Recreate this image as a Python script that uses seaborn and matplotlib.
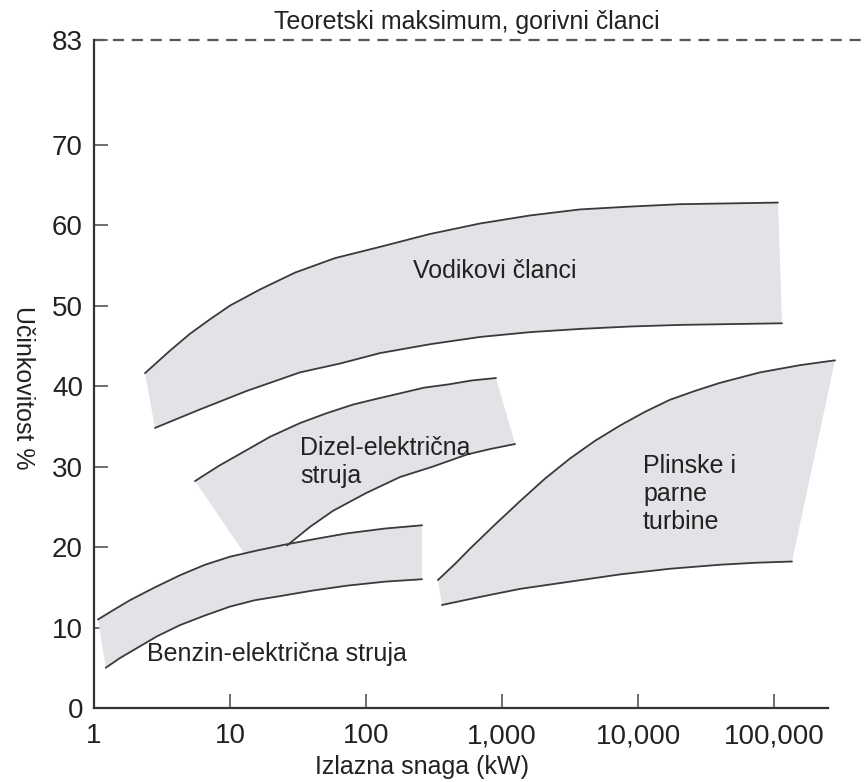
import numpy as np
import seaborn as sns
import matplotlib.pyplot as plt

sns.set_theme(style="ticks")
plt.rcParams['font.family'] = ['Liberation Sans', 'DejaVu Sans']

# power output (kW) and efficiency (%)
# Vodikovi clanci (hydrogen fuel cells)
h_up_x = [2.37, 3.62, 5.08, 7.13, 10, 16.6, 30.1, 59.2, 127, 296, 689,
          1607, 3748, 8730, 20370, 47470, 107000]
h_up_y = [41.6, 44.4, 46.5, 48.3, 50.0, 52.0, 54.1, 55.9, 57.3, 58.9, 60.2,
          61.2, 61.95, 62.3, 62.6, 62.7, 62.8]
h_lo_x = [2.81, 6.02, 13.3, 32.7, 64.4, 127, 296, 689, 1607, 3748, 8730,
          20370, 47470, 114500]
h_lo_y = [34.8, 37.1, 39.4, 41.7, 42.8, 44.1, 45.2, 46.1, 46.7, 47.1, 47.4,
          47.6, 47.7, 47.8]

# Dizel-elektricna struja
d_up_x = [5.53, 8.3, 12.5, 19.7, 32.7, 50.8, 80.2, 118.5, 178, 267, 401,
          601, 903]
d_up_y = [28.2, 30.1, 31.8, 33.7, 35.4, 36.6, 37.7, 38.4, 39.1, 39.8, 40.2,
          40.7, 41.0]
d_lo_x = [26.3, 38.7, 57.2, 100, 178, 311, 553, 830, 1247]
d_lo_y = [20.2, 22.5, 24.5, 26.7, 28.7, 30.0, 31.5, 32.2, 32.8]
d_corner_x = [13]
d_corner_y = [19.0]

# Benzin-elektricna struja
b_up_x = [1.07, 1.43, 1.84, 2.81, 4.29, 6.55, 10, 16.1, 25.4, 42.2, 72.5,
          138, 258]
b_up_y = [11.0, 12.3, 13.4, 15.0, 16.5, 17.8, 18.8, 19.6, 20.3, 21.0, 21.7,
          22.3, 22.7]
b_lo_x = [1.22, 1.55, 2.0, 2.9, 4.29, 6.55, 10, 15.3, 23.3, 40.8, 72.5,
          138, 258]
b_lo_y = [5.0, 6.2, 7.3, 8.9, 10.3, 11.5, 12.6, 13.4, 13.9, 14.6, 15.2,
          15.7, 16.0]

# Plinske i parne turbine
p_up_x = [338, 451, 582, 889, 1357, 2070, 3162, 4830, 7380, 11250, 17180,
          26240, 40060, 78900, 155400, 281000]
p_up_y = [15.9, 17.9, 19.8, 22.8, 25.7, 28.5, 31.0, 33.2, 35.1, 36.8, 38.3,
          39.4, 40.4, 41.7, 42.6, 43.2]
p_lo_x = [362, 689, 1357, 3162, 7380, 17180, 40060, 73800, 135600]
p_lo_y = [12.8, 13.8, 14.8, 15.7, 16.6, 17.3, 17.8, 18.05, 18.2]

max_eff = 83
xticks = [1, 10, 100, 1000, 10000, 100000]
xticklabels = ["1", "10", "100", "1,000", "10,000", "100,000"]
yticks = [0, 10, 20, 30, 40, 50, 60, 70, 83]

fill_col = "#e3e3e7"
line_col = "#3a3a3a"
text_col = "#222222"

fig = plt.figure(figsize=(8.67, 7.82), dpi=100)
ax = fig.add_axes([94/867, 74/782, 734/867, 668/782])
ax.set_xscale("log")


def band(ux, uy, lx, ly, cx=(), cy=()):
    ux, uy, lx, ly = map(np.asarray, (ux, uy, lx, ly))
    px = np.concatenate([ux, lx[::-1], cx])
    py = np.concatenate([uy, ly[::-1], cy])
    ax.fill(px, py, color=fill_col, lw=0, clip_on=False, zorder=1)
    sns.lineplot(x=ux, y=uy, ax=ax, color=line_col, lw=1.3, clip_on=False, zorder=2)
    sns.lineplot(x=lx, y=ly, ax=ax, color=line_col, lw=1.3, clip_on=False, zorder=2)


band(h_up_x, h_up_y, h_lo_x, h_lo_y)
band(b_up_x, b_up_y, b_lo_x, b_lo_y)
band(d_up_x, d_up_y, d_lo_x, d_lo_y, d_corner_x, d_corner_y)
band(p_up_x, p_up_y, p_lo_x, p_lo_y)

ax.axhline(max_eff, xmin=0, xmax=1.06, color="#555555", lw=1.6,
           ls=(0, (5, 3.5)), clip_on=False)

ax.set_xlim(1, 10**5.397)
ax.set_ylim(0, max_eff)
ax.set_xticks(xticks)
ax.set_xticklabels(xticklabels)
ax.xaxis.set_minor_locator(plt.NullLocator())
ax.set_yticks(yticks)

sns.despine(ax=ax, top=True, right=True)
for s in ["left", "bottom"]:
    ax.spines[s].set_color("#333333")
    ax.spines[s].set_linewidth(1.6)

ax.tick_params(axis="both", direction="in", length=10, width=1.2,
               color="#555555", labelsize=20, labelcolor=text_col)
ax.tick_params(axis="x", pad=11)
ax.tick_params(axis="y", pad=8)

ax.set_xlabel("Izlazna snaga (kW)", fontsize=18, color=text_col, va="center")
ax.xaxis.set_label_coords(0.447, -0.088)
ax.set_ylabel("Učinkovitost %", fontsize=18, color=text_col, rotation=270,
              va="center", ha="center")
ax.yaxis.set_label_coords(-0.097, 0.48)

ax.text(222, 54.3, "Vodikovi članci", fontsize=18, color=text_col, va="center")
ax.text(32.6, 30.6, "Dizel-električna\nstruja", fontsize=18, color=text_col,
        va="center", zorder=3)
ax.text(10900, 26.6, "Plinske i\nparne\nturbine", fontsize=18, color=text_col,
        va="center")
ax.text(2.45, 6.7, "Benzin-električna struja", fontsize=18, color=text_col,
        va="center")

fig.text(467/867, 1 - 22/782, "Teoretski maksimum, gorivni članci", fontsize=18,
         color=text_col, ha="center", va="center")

fig.savefig("out.png", dpi=100)
